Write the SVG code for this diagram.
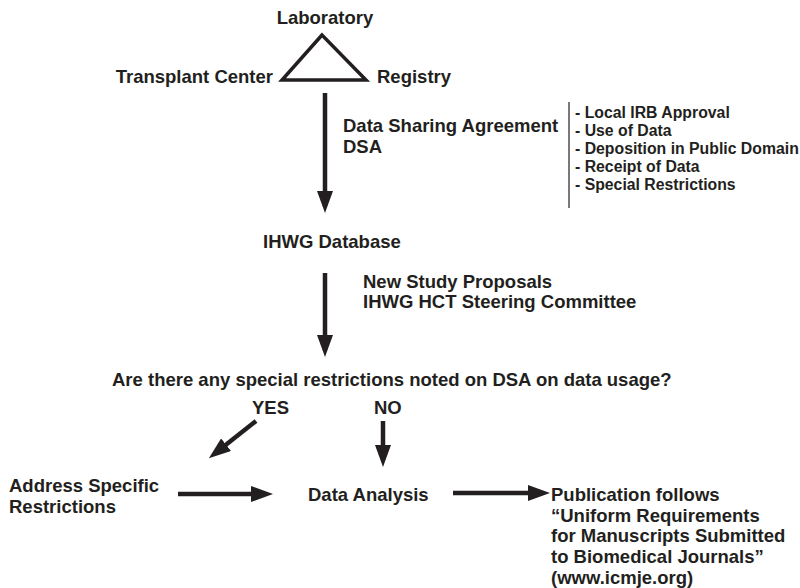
<svg xmlns="http://www.w3.org/2000/svg" width="800" height="588" viewBox="0 0 800 588">
<style>
text{font-family:"Liberation Sans",Arial,Helvetica,sans-serif;font-weight:bold;font-size:18.5px;fill:#231f20}
.sm{font-size:15.8px}
.ln{stroke:#231f20;stroke-width:4.5;fill:none}
.thin{stroke:#231f20;stroke-width:1.2;fill:none}
</style>
<defs>
<marker id="ah" markerWidth="22" markerHeight="16" refX="1" refY="8" orient="auto" markerUnits="userSpaceOnUse" viewBox="0 0 22 16">
<path d="M0,0 L22,8 L0,16 z" fill="#231f20"/>
</marker>
</defs>
<rect width="800" height="588" fill="#fff"/>
<g id="laboratory"><text x="325" y="24" text-anchor="middle">Laboratory</text></g>
<g id="transplant-center"><text x="273" y="83" text-anchor="end">Transplant Center</text></g>
<g id="registry"><text x="377" y="83">Registry</text></g>
<g id="triangle"><polygon points="322,35 282,80 366,80" fill="none" stroke="#231f20" stroke-width="3.5" stroke-linejoin="miter"/></g>
<g id="dsa-label"><text x="343" y="132">Data Sharing Agreement</text><text x="343" y="153">DSA</text></g>
<g id="dsa-list">
<line class="thin" x1="569" y1="102" x2="569" y2="208"/>
<text class="sm" x="575" y="118">- Local IRB Approval</text>
<text class="sm" x="575" y="136">- Use of Data</text>
<text class="sm" x="575" y="154">- Deposition in Public Domain</text>
<text class="sm" x="575" y="172">- Receipt of Data</text>
<text class="sm" x="575" y="190">- Special Restrictions</text>
</g>
<g id="ihwg-database"><text x="263" y="248">IHWG Database</text></g>
<g id="proposals-label"><text x="363" y="288">New Study Proposals</text><text x="363" y="308">IHWG HCT Steering Committee</text></g>
<g id="question"><text x="112" y="386">Are there any special restrictions noted on DSA on data usage?</text></g>
<g id="yes"><text x="252" y="414">YES</text></g>
<g id="no"><text x="374" y="414">NO</text></g>
<g id="address"><text x="9" y="492">Address Specific</text><text x="9" y="513">Restrictions</text></g>
<g id="data-analysis"><text x="308" y="501">Data Analysis</text></g>
<g id="publication">
<text x="551" y="501">Publication follows</text>
<text x="551" y="522">“Uniform Requirements</text>
<text x="551" y="542">for Manuscripts Submitted</text>
<text x="551" y="563">to Biomedical Journals”</text>
<text x="551" y="584">(www.icmje.org)</text>
</g>
<g id="connectors">
<path class="ln" d="M325,93 L325,192" marker-end="url(#ah)"/>
<path class="ln" d="M325,273 L325,336" marker-end="url(#ah)"/>
<path class="ln" d="M256,421 L225.3,445.3" marker-end="url(#ah)"/>
<path class="ln" d="M383,421 L383,446" marker-end="url(#ah)"/>
<path class="ln" d="M178,494 L252,494" marker-end="url(#ah)"/>
<path class="ln" d="M453,493 L529,493" marker-end="url(#ah)"/>
</g>
</svg>
